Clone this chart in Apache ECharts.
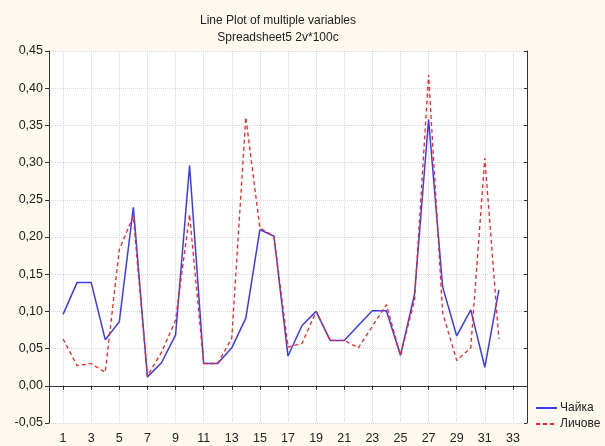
<!DOCTYPE html>
<html>
<head>
<meta charset="utf-8">
<script src="https://cdn.jsdelivr.net/npm/echarts@6/dist/echarts.min.js"></script>
<style>
  html, body { margin: 0; padding: 0; background: #fdf9ef; }
  #main { width: 605px; height: 446px; }
</style>
</head>
<body>
<div id="main"></div>
<script>
// ось X: позиции 0..34, подписи только на нечётных
var xCategories = ['0', '1', '2', '3', '4', '5', '6', '7', '8', '9', '10', '11', '12', '13', '14', '15', '16',
    '17', '18', '19', '20', '21', '22', '23', '24', '25', '26', '27', '28', '29', '30', '31', '32', '33', '34'];
// номера наблюдений
var obs = [1, 2, 3, 4, 5, 6, 7, 8, 9, 10, 11, 12, 13, 14, 15, 16,
    17, 18, 19, 20, 21, 22, 23, 24, 25, 26, 27, 28, 29, 30, 31, 32];
// Чайка (сплошная синяя)
var chaika = [0.096, 0.139, 0.139, 0.062, 0.086, 0.240, 0.012, 0.031, 0.068, 0.296, 0.030, 0.030, 0.051, 0.091, 0.210, 0.201,
    0.040, 0.081, 0.100, 0.061, 0.061, 0.081, 0.101, 0.101, 0.041, 0.123, 0.358, 0.133, 0.067, 0.102, 0.025, 0.129];
// Личове (пунктир красный)
var lichove = [0.063, 0.027, 0.030, 0.018, 0.183, 0.228, 0.013, 0.045, 0.088, 0.230, 0.030, 0.030, 0.064, 0.361, 0.212, 0.201,
    0.052, 0.057, 0.100, 0.061, 0.061, 0.051, 0.080, 0.109, 0.041, 0.115, 0.418, 0.098, 0.034, 0.051, 0.306, 0.063];

var font = 'Liberation Sans, Arial, sans-serif';
var oddOnly = function (index) { return index % 2 === 1; };

function pairs(vals) {
    return vals.map(function (v, i) { return [obs[i], v]; });
}

var myChart = echarts.init(document.getElementById('main'));

var option = {
    backgroundColor: '#fdf9ef',
    animation: false,
    title: {
        text: 'Line Plot of multiple variables\nSpreadsheet5 2v*100c',
        left: 273,
        top: 7,
        textAlign: 'center',
        textStyle: { fontFamily: font, fontSize: 12, fontWeight: 'normal', color: '#222', lineHeight: 17 }
    },
    legend: {
        orient: 'vertical',
        left: 530,
        top: 397,
        itemGap: 4,
        itemWidth: 21,
        itemHeight: 10,
        itemStyle: { opacity: 0 },
        textStyle: { fontFamily: font, fontSize: 12, color: '#222', padding: [0, 0, 0, -2] },
        data: ['Чайка', 'Личове']
    },
    grid: { left: 49, right: 78, top: 51, bottom: 23, show: true, backgroundColor: '#fff', borderWidth: 0 },
    xAxis: [
        {
            type: 'category',
            data: xCategories,
            boundaryGap: false,
            position: 'bottom',
            axisLine: { lineStyle: { color: '#333', width: 1 } },
            axisTick: { interval: oddOnly, length: 4, lineStyle: { color: '#333' } },
            axisLabel: { interval: oddOnly, fontFamily: font, fontSize: 12.5, color: '#222', margin: 9 },
            splitLine: { show: true, interval: oddOnly, lineStyle: { color: '#d8d8d8', type: 'dotted' } }
        },
        {
            type: 'category',
            data: xCategories,
            boundaryGap: false,
            position: 'top',
            axisLine: { lineStyle: { color: '#333', width: 1 } },
            axisTick: { interval: oddOnly, inside: true, length: 3, lineStyle: { color: '#333' } },
            axisLabel: { show: false },
            splitLine: { show: false }
        }
    ],
    yAxis: [
        {
            type: 'value',
            min: -0.05,
            max: 0.45,
            interval: 0.05,
            axisLine: { show: true, lineStyle: { color: '#333', width: 1 } },
            axisTick: { show: true, length: 4, lineStyle: { color: '#333' } },
            axisLabel: {
                fontFamily: font, fontSize: 12.5, color: '#222', margin: 6,
                formatter: function (v) { return v.toFixed(2).replace('.', ','); }
            },
            splitLine: { show: true, lineStyle: { color: '#d8d8d8', type: 'dotted' } }
        },
        {
            type: 'value',
            min: -0.05,
            max: 0.45,
            interval: 0.05,
            position: 'right',
            axisLine: { show: true, lineStyle: { color: '#333', width: 1 } },
            axisTick: { show: true, inside: true, length: 3, lineStyle: { color: '#333' } },
            axisLabel: { show: false },
            splitLine: { show: false }
        }
    ],
    series: [
        {
            name: 'Чайка',
            type: 'line',
            symbol: 'none',
            data: pairs(chaika),
            color: '#3a3aff',
            lineStyle: { color: '#3a3aff', width: 1.5 },
            z: 3
        },
        {
            name: 'Личове',
            type: 'line',
            symbol: 'none',
            data: pairs(lichove),
            color: '#ff2020',
            lineStyle: { color: '#ff2020', width: 1.3, type: [4, 3] },
            z: 4
        }
    ]
};

myChart.setOption(option);
</script>
</body>
</html>
